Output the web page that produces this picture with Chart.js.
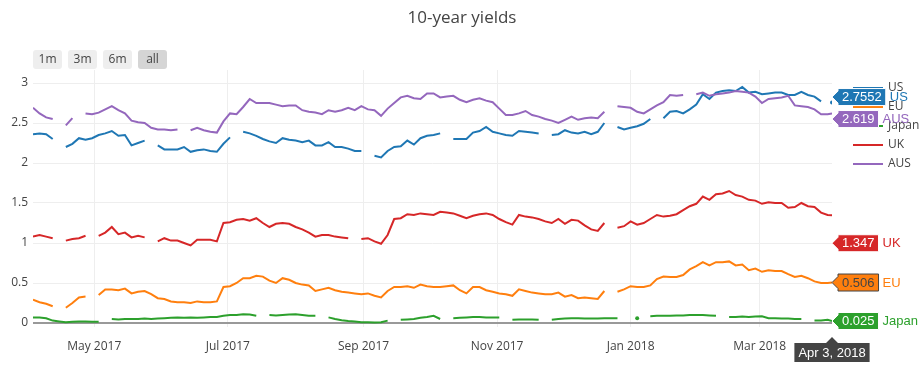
<!DOCTYPE html>
<html>
<head>
<meta charset="utf-8">
<script src="https://cdn.jsdelivr.net/npm/chart.js@4.4.1/dist/chart.umd.min.js"></script>
<style>
  html, body { margin: 0; padding: 0; background: #fff; }
  #wrap { width: 924px; height: 368px; }
</style>
</head>
<body>
<div id="wrap"><canvas id="chartYields" width="924" height="368"></canvas></div>
<script>
// sample days, counted from Apr 3, 2017 (every 3 days, last point Apr 3, 2018)
const startDate = new Date(2017, 3, 3);
const days = Array.from({ length: 122 }, (_, i) => i * 3).concat([365]);

// x-axis ticks: first of every other month
const tickDays = [28, 89, 151, 212, 273, 332];
const tickLabels = ['May 2017', 'Jul 2017', 'Sep 2017', 'Nov 2017', 'Jan 2018', 'Mar 2018'];
const yTicks = [0, 0.5, 1, 1.5, 2, 2.5, 3];

const seriesNames = ['US', 'EU', 'Japan', 'UK', 'AUS'];
const seriesColors = ['#1f77b4', '#ff7f0e', '#2ca02c', '#d62728', '#9467bd'];

const usYield = [
  2.36, 2.37, 2.36, 2.30, null, 2.20, 2.24, 2.31, 2.29, 2.31,
  2.35, 2.37, 2.40, 2.34, 2.35, 2.22, 2.25, 2.28, null, 2.22,
  2.17, 2.17, 2.17, 2.20, 2.14, 2.16, 2.17, 2.15, 2.14, 2.24,
  2.32, null, 2.39, 2.37, 2.34, 2.30, 2.27, 2.25, 2.31, 2.29,
  2.28, 2.26, 2.28, 2.22, 2.22, 2.26, 2.20, 2.20, 2.18, 2.15,
  2.15, null, 2.09, 2.07, 2.15, 2.20, 2.21, 2.28, 2.23, 2.31,
  2.34, 2.35, 2.37, null, 2.30, 2.30, 2.30, 2.38, 2.40, 2.45,
  2.39, 2.37, 2.35, 2.34, 2.40, 2.39, 2.38, 2.37, null, 2.35,
  2.36, 2.41, 2.38, 2.37, 2.39, 2.36, 2.39, 2.50, null, 2.45,
  2.42, 2.44, 2.46, 2.49, 2.55, null, 2.56, 2.64, 2.65, 2.62,
  2.67, 2.73, 2.86, 2.80, 2.88, 2.90, 2.91, 2.90, 2.95, 2.88,
  2.89, 2.86, 2.87, 2.88, 2.88, 2.85, 2.85, 2.89, 2.85, 2.83,
  2.77, null, 2.7552
];
const euYield = [
  0.29, 0.26, 0.24, 0.21, null, 0.19, 0.25, 0.32, 0.33, null,
  0.35, 0.42, 0.42, 0.41, 0.43, 0.37, 0.39, 0.40, 0.36, 0.31,
  0.30, 0.27, 0.26, 0.26, 0.25, 0.27, 0.26, 0.26, 0.27, 0.45,
  0.46, 0.50, 0.56, 0.56, 0.59, 0.58, 0.53, 0.50, 0.56, 0.54,
  0.50, 0.48, 0.47, 0.40, 0.42, 0.44, 0.41, 0.39, 0.38, 0.37,
  0.36, 0.37, 0.34, 0.32, 0.40, 0.45, 0.45, 0.46, 0.44, 0.48,
  0.46, 0.45, 0.45, 0.46, 0.47, 0.41, 0.37, 0.45, 0.45, 0.41,
  0.39, 0.37, 0.36, 0.34, 0.42, 0.40, 0.38, 0.37, 0.36, 0.36,
  0.38, 0.33, 0.35, 0.31, 0.32, 0.31, 0.30, 0.40, null, 0.39,
  0.42, 0.46, 0.45, 0.45, 0.47, 0.55, 0.58, 0.575, 0.575, 0.60,
  0.67, 0.71, 0.76, 0.72, 0.76, 0.76, 0.77, 0.72, 0.73, 0.66,
  0.68, 0.64, 0.66, 0.65, 0.65, 0.61, 0.575, 0.59, 0.56, 0.52,
  0.50, 0.50, 0.506
];
const japanYield = [
  0.07, 0.07, 0.06, 0.03, 0.02, 0.01, 0.015, 0.02, 0.02, 0.015,
  0.015, null, 0.05, 0.045, 0.05, 0.05, 0.05, 0.055, 0.05, 0.055,
  0.06, 0.065, 0.07, 0.065, 0.07, 0.065, 0.07, 0.075, 0.075, 0.09,
  0.10, 0.10, 0.11, 0.105, 0.09, null, 0.10, 0.095, 0.10, 0.105,
  0.11, 0.10, 0.09, 0.09, null, 0.07, 0.05, 0.035, 0.025, 0.02,
  0.01, 0.01, 0.005, 0.01, 0.03, null, 0.04, 0.045, 0.05, 0.065,
  0.075, 0.09, 0.05, null, 0.06, 0.065, 0.07, 0.075, 0.075, 0.07,
  0.07, 0.07, null, 0.04, 0.045, 0.045, 0.045, 0.04, null, 0.04,
  0.05, 0.055, 0.06, 0.06, 0.055, 0.055, 0.055, 0.06, 0.06, 0.06,
  null, null, 0.06, null, 0.085, 0.09, 0.09, 0.09, 0.095, 0.095,
  0.10, 0.10, 0.10, 0.095, 0.09, null, 0.075, 0.075, 0.08, 0.075,
  0.08, 0.085, 0.06, 0.06, 0.055, 0.055, 0.05, 0.05, null, 0.03,
  0.03, 0.04, 0.025
];
const ukYield = [
  1.08, 1.10, 1.08, 1.06, null, 1.03, 1.05, 1.06, 1.09, null,
  1.09, 1.13, 1.20, 1.11, 1.13, 1.07, 1.09, 1.07, null, 1.02,
  1.06, 1.03, 1.03, 1.00, 0.97, 1.04, 1.04, 1.04, 1.02, 1.25,
  1.26, 1.29, 1.30, 1.28, 1.31, 1.25, 1.20, 1.24, 1.25, 1.24,
  1.20, 1.17, 1.13, 1.08, 1.10, 1.10, 1.08, 1.07, 1.06, null,
  1.05, 1.06, 1.02, 0.99, 1.10, 1.30, 1.31, 1.36, 1.35, 1.37,
  1.36, 1.35, 1.39, 1.38, 1.37, 1.34, 1.31, 1.34, 1.36, 1.37,
  1.35, 1.30, 1.26, 1.23, 1.35, 1.33, 1.32, 1.30, 1.27, 1.25,
  1.30, 1.24, 1.29, 1.28, 1.22, 1.17, 1.15, 1.25, null, 1.19,
  1.21, 1.27, 1.23, 1.25, 1.30, 1.35, 1.33, 1.34, 1.36, 1.41,
  1.46, 1.49, 1.58, 1.54, 1.61, 1.62, 1.65, 1.60, 1.58, 1.54,
  1.53, 1.49, 1.51, 1.50, 1.50, 1.44, 1.45, 1.50, 1.46, 1.45,
  1.38, 1.35, 1.347
];
const ausYield = [
  2.69, 2.62, 2.57, 2.55, null, 2.47, 2.56, null, 2.62, 2.61,
  2.63, 2.67, 2.71, 2.66, 2.62, 2.53, 2.51, 2.50, 2.44, 2.42,
  2.42, 2.41, 2.42, null, 2.41, 2.44, 2.41, 2.39, 2.38, 2.52,
  2.62, 2.61, 2.70, 2.80, 2.75, 2.75, 2.75, 2.73, 2.71, 2.72,
  2.72, 2.66, 2.64, 2.63, 2.61, 2.66, 2.64, 2.66, 2.69, 2.66,
  2.71, 2.67, 2.66, 2.59, 2.68, 2.75, 2.82, 2.84, 2.81, 2.80,
  2.87, 2.87, 2.82, 2.83, 2.84, 2.79, 2.76, 2.79, 2.81, 2.78,
  2.76, 2.68, 2.60, 2.60, 2.62, 2.65, 2.60, 2.58, 2.55, 2.53,
  2.50, 2.54, 2.58, 2.54, 2.56, 2.57, 2.56, 2.64, null, 2.71,
  2.70, 2.69, 2.64, 2.62, 2.67, 2.72, 2.76, 2.85, 2.84, 2.85,
  null, 2.86, 2.88, 2.84, 2.86, 2.87, 2.88, 2.90, 2.89, 2.88,
  2.83, 2.75, 2.80, 2.81, 2.82, 2.84, 2.72, 2.71, 2.70, 2.67,
  2.61, 2.61, 2.619
];

const seriesValues = [usYield, euYield, japanYield, ukYield, ausYield];

const FONT = '"Open Sans", "DejaVu Sans", sans-serif';
const HOVER_FONT = 'Arial, "Liberation Sans", sans-serif';

function formatDay(d) {
  const dt = new Date(startDate.getTime());
  dt.setDate(dt.getDate() + d);
  const m = ['Jan','Feb','Mar','Apr','May','Jun','Jul','Aug','Sep','Oct','Nov','Dec'];
  return m[dt.getMonth()] + ' ' + dt.getDate() + ', ' + dt.getFullYear();
}

// lone points (gap on both sides) get a small dot, like plotly does
function isolatedRadius(ctx) {
  const d = ctx.dataset.data;
  const i = ctx.dataIndex;
  if (d[i] == null || d[i].y == null) return 0;
  const prev = i === 0 || d[i - 1].y == null;
  const next = i === d.length - 1 || d[i + 1].y == null;
  return prev && next ? 2 : 0;
}

function roundRect(ctx, x, y, w, h, r) {
  ctx.beginPath();
  ctx.moveTo(x + r, y);
  ctx.arcTo(x + w, y, x + w, y + h, r);
  ctx.arcTo(x + w, y + h, x, y + h, r);
  ctx.arcTo(x, y + h, x, y, r);
  ctx.arcTo(x, y, x + w, y, r);
  ctx.closePath();
}

const decorPlugin = {
  id: 'decor',
  afterDraw(chart) {
    const ctx = chart.ctx;
    const xs = chart.scales.x;
    const ys = chart.scales.y;
    ctx.save();

    // title
    ctx.fillStyle = '#444';
    ctx.font = '17px ' + FONT;
    ctx.textAlign = 'center';
    ctx.textBaseline = 'middle';
    ctx.fillText('10-year yields', 462, 18);

    // range selector buttons
    const buttons = [['1m', 33], ['3m', 68], ['6m', 103], ['all', 138]];
    ctx.font = '12px ' + FONT;
    buttons.forEach(([txt, bx]) => {
      ctx.fillStyle = txt === 'all' ? '#d5d5d5' : '#eeeeee';
      roundRect(ctx, bx, 50, 29, 19, 3);
      ctx.fill();
      ctx.fillStyle = '#444';
      ctx.fillText(txt, bx + 14.5, 59.5);
    });

    // legend
    ctx.textAlign = 'left';
    ctx.font = '12px ' + FONT;
    seriesNames.forEach((name, i) => {
      const ly = 88 + i * 19;
      ctx.strokeStyle = seriesColors[i];
      ctx.lineWidth = 2;
      ctx.beginPath();
      ctx.moveTo(853, ly);
      ctx.lineTo(883, ly);
      ctx.stroke();
      ctx.fillStyle = '#444';
      ctx.fillText(name, 888, ly);
    });

    // end-of-series hover labels
    const lastIdx = days.length - 1;
    const tipX = xs.getPixelForValue(days[lastIdx]);
    const labels = seriesValues.map((vals, i) => ({
      i, val: vals[lastIdx], y: ys.getPixelForValue(vals[lastIdx])
    }));
    const sorted = labels.slice().sort((a, b) => a.y - b.y);
    for (let k = 1; k < sorted.length; k++) {
      const gap = sorted[k].y - sorted[k - 1].y;
      if (gap < 22) {
        const push = (22 - gap) / 2;
        sorted[k - 1].y -= push;
        sorted[k].y += push;
      }
    }
    // the UK label sits lower in the original
    labels[3].y += 28;
    ctx.font = '13px ' + HOVER_FONT;
    labels.forEach(l => {
      const txt = String(l.val);
      const tw = ctx.measureText(txt).width;
      const bx = tipX + 6;
      const bh = 17;
      const by = l.y - bh / 2;
      const light = seriesNames[l.i] === 'EU';
      ctx.fillStyle = seriesColors[l.i];
      ctx.beginPath();
      ctx.moveTo(tipX, l.y);
      ctx.lineTo(bx, l.y - 6);
      ctx.lineTo(bx, by);
      ctx.lineTo(bx + tw + 8, by);
      ctx.lineTo(bx + tw + 8, by + bh);
      ctx.lineTo(bx, by + bh);
      ctx.lineTo(bx, l.y + 6);
      ctx.closePath();
      ctx.fill();
      ctx.lineWidth = 1;
      ctx.strokeStyle = light ? '#444' : '#fff';
      ctx.stroke();
      ctx.fillStyle = light ? '#444' : '#fff';
      ctx.textBaseline = 'middle';
      ctx.fillText(txt, bx + 4, l.y + 0.5);
      ctx.fillStyle = seriesColors[l.i];
      ctx.fillText(seriesNames[l.i], bx + tw + 12, l.y + 0.5);
    });

    // x hover label
    const dateTxt = formatDay(days[lastIdx]);
    const dw = ctx.measureText(dateTxt).width + 8;
    const ty = 337;
    ctx.fillStyle = '#444';
    ctx.beginPath();
    ctx.moveTo(tipX, ty);
    ctx.lineTo(tipX + 6, ty + 6);
    ctx.lineTo(tipX + dw / 2, ty + 6);
    ctx.lineTo(tipX + dw / 2, ty + 25);
    ctx.lineTo(tipX - dw / 2, ty + 25);
    ctx.lineTo(tipX - dw / 2, ty + 6);
    ctx.lineTo(tipX - 6, ty + 6);
    ctx.closePath();
    ctx.fill();
    ctx.fillStyle = '#fff';
    ctx.textAlign = 'center';
    ctx.fillText(dateTxt, tipX, ty + 16);

    ctx.restore();
  }
};

const ctxYields = document.getElementById('chartYields').getContext('2d');
const chartYields = new Chart(ctxYields, {
  type: 'line',
  data: {
    datasets: seriesNames.map((name, i) => ({
      label: name,
      data: seriesValues[i].map((v, k) => ({ x: days[k], y: v })),
      borderColor: seriesColors[i],
      backgroundColor: seriesColors[i],
      borderWidth: 2,
      pointRadius: isolatedRadius,
      pointBorderWidth: 0,
      tension: 0,
      fill: false,
      spanGaps: false,
      order: seriesNames.length - i
    }))
  },
  options: {
    responsive: false,
    animation: false,
    events: [],
    layout: { padding: { top: 70, right: 92, left: 0, bottom: 0 } },
    plugins: {
      legend: { display: false },
      tooltip: { enabled: false },
      title: { display: false }
    },
    scales: {
      x: {
        type: 'linear',
        min: 0,
        max: 365,
        afterFit(scale) { scale.height = 41; },
        afterBuildTicks(scale) { scale.ticks = tickDays.map(v => ({ value: v })); },
        ticks: {
          autoSkip: false,
          maxRotation: 0,
          padding: 12,
          color: '#444',
          font: { family: FONT, size: 12 },
          callback: (v) => tickLabels[tickDays.indexOf(v)]
        },
        grid: { color: '#eeeeee', drawTicks: false },
        border: { display: false }
      },
      y: {
        min: -0.05,
        max: 3.1625,
        afterFit(scale) { scale.width = 33; },
        afterBuildTicks(scale) { scale.ticks = yTicks.map(v => ({ value: v })); },
        ticks: {
          padding: 5,
          color: '#444',
          font: { family: FONT, size: 12 },
          callback: (v) => String(v)
        },
        grid: {
          drawTicks: false,
          color: (c) => (c.tick && c.tick.value === 0 ? '#999999' : '#eeeeee'),
          lineWidth: (c) => (c.tick && c.tick.value === 0 ? 2 : 1)
        },
        border: { display: false }
      }
    }
  },
  plugins: [decorPlugin]
});
</script>
</body>
</html>
